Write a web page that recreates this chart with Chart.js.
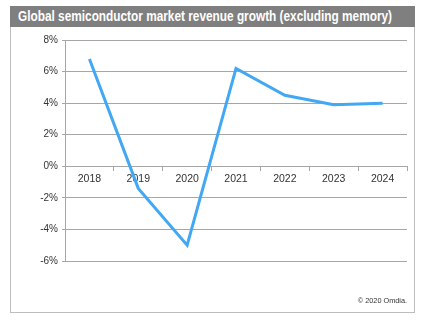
<!DOCTYPE html>
<html>
<head>
<meta charset="utf-8">
<script src="https://cdn.jsdelivr.net/npm/chart.js@4"></script>
<style>
  html, body { margin: 0; padding: 0; background: #fff; }
  #wrap { position: relative; width: 428px; height: 326px; overflow: hidden; }
  #frame { position: absolute; left: 10px; top: 6px; width: 405px; height: 307px; border: 1px solid #bdbdbd; box-sizing: border-box; }
  #title { position: absolute; left: 10px; top: 6px; width: 405px; height: 21px; background: #7f7f7f;
           color: #fff; font: bold 14px "Liberation Sans", Arial, sans-serif; line-height: 21px;
           white-space: nowrap; }
  #title span { display: inline-block; margin-left: 8px; transform-origin: left center; }
  #credit { position: absolute; right: 21px; top: 296px; font: 7.3px "Liberation Sans", Arial, sans-serif; color: #333; }
  canvas { position: absolute; left: 0; top: 0; }
</style>
</head>
<body>
<div id="wrap">
  <div id="frame"></div>
  <div id="title"><span id="titleText">Global semiconductor market revenue growth (excluding memory)</span></div>
  <canvas id="myChart" width="428" height="326"></canvas>
  <div id="credit">© 2020 Omdia.</div>
</div>
<script>
// données
const years = ['2018', '2019', '2020', '2021', '2022', '2023', '2024'];
const growth = [6.8, -1.4, -5.0, 6.2, 4.5, 3.9, 4.0];
const yTicks = [-6, -4, -2, 0, 2, 4, 6, 8];

// titre un peu condensé comme sur l'image
const t = document.getElementById('titleText');
const w = t.getBoundingClientRect().width;
t.style.transform = 'scaleX(' + (374 / w) + ')';

const ctx = document.getElementById('myChart').getContext('2d');
const myChart = new Chart(ctx, {
    type: 'line',
    data: {
        labels: years,
        datasets: [{
            data: growth,
            borderColor: '#42a8f4',
            borderWidth: 3,
            pointRadius: 0,
            tension: 0,
            fill: false
        }]
    },
    options: {
        responsive: false,
        animation: false,
        layout: { padding: { left: 0, right: 21, top: 40, bottom: 65 } },
        plugins: { legend: { display: false }, tooltip: { enabled: false } },
        scales: {
            x: {
                position: { y: 0 },
                offset: true,
                grid: { offset: true, drawOnChartArea: false, color: '#a6a6a6', tickLength: 4 },
                border: { color: '#a6a6a6' },
                ticks: { color: '#333', font: { family: 'Liberation Sans', size: 10.5 }, padding: 3, maxRotation: 0 }
            },
            y: {
                min: yTicks[0],
                max: yTicks[yTicks.length - 1],
                afterFit: (axis) => { axis.width = 65; },
                afterBuildTicks: (axis) => { axis.ticks = yTicks.map(v => ({ value: v })); },
                grid: { color: '#a6a6a6', tickLength: 3 },
                border: { color: '#a6a6a6' },
                ticks: {
                    color: '#333',
                    font: { family: 'Liberation Sans', size: 10 },
                    padding: 4,
                    callback: (v) => v + '%'
                }
            }
        }
    }
});
</script>
</body>
</html>
